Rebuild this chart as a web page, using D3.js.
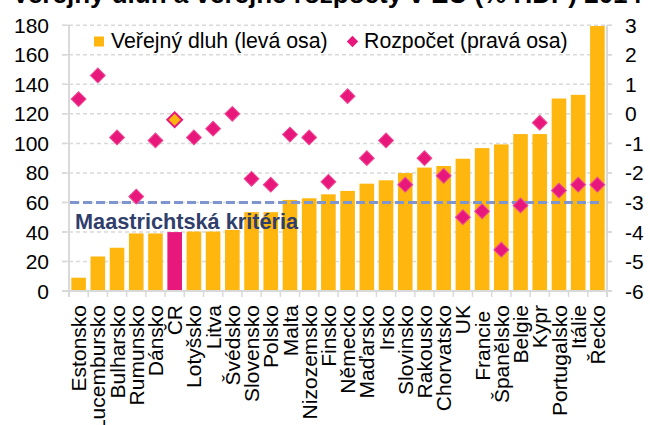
<!DOCTYPE html>
<html><head><meta charset="utf-8">
<script src="https://cdn.jsdelivr.net/npm/d3@7"></script>
<style>
body{margin:0;background:#fff;overflow:hidden}
text{font-family:"Liberation Sans",Arial,sans-serif}
</style>
</head><body><svg id="c" width="650" height="425"></svg>
<script>
const titleText = "Veřejný dluh a veřejné rozpočty v EU (% HDP) 2014";
const categories = ["Estonsko","Lucembursko","Bulharsko","Rumunsko","Dánsko","ČR","Lotyšsko","Litva","Švédsko","Slovensko","Polsko","Malta","Nizozemsko","Finsko","Německo","Maďarsko","Irsko","Slovinsko","Rakousko","Chorvatsko","UK","Francie\u00a0","Španělsko","Belgie","Kypr","Portugalsko","Itálie","Řecko"];
const debt   = [9.0,23.4,29.3,39.0,39.0,39.9,40.3,40.3,41.4,53.4,53.4,61.7,62.8,65.5,67.8,72.7,75.0,79.9,83.6,84.7,89.6,96.8,99.3,106.3,106.3,130.4,132.9,179.5];
const budget = [0.5,1.3,-0.8,-2.8,-0.9,-0.2,-0.8,-0.5,0.0,-2.2,-2.4,-0.7,-0.8,-2.3,0.6,-1.5,-0.9,-2.4,-1.5,-2.1,-3.5,-3.3,-4.6,-3.1,-0.3,-2.6,-2.4,-2.4];
const leftTicks = [0,20,40,60,80,100,120,140,160,180];
const rightTicks = [-6,-5,-4,-3,-2,-1,0,1,2,3];
const maastrichtDebt = 60;
const highlight = "ČR";
const legendLabels = ["Veřejný dluh (levá osa)","Rozpočet (pravá osa)"];
const refLabel = "Maastrichtská kritéria";

const ORANGE = "#FFB70F", MAGENTA = "#E8177B", GRID = "#D9D9D9", BLUE = "#7F95CF", NAVY = "#2F3E6B";
const svg = d3.select("#c");
const x0 = 69, x1 = 607, yTop = 25.3, yBot = 291;

const x = d3.scaleBand().domain(categories).range([x0, x1]).paddingInner(0.24).paddingOuter(0.12);
const yL = d3.scaleLinear().domain([0,180]).range([yBot, yTop]);
const yR = d3.scaleLinear().domain([-6,3]).range([yBot, yTop]);

// title (mostly cut off at top, as in the reference)
svg.append("text").attr("x", 12).attr("y", 2.5).attr("font-size", 26).attr("font-weight", "bold")
  .attr("fill", "#000").text(titleText);

// gridlines
svg.append("g").selectAll("line").data(leftTicks.filter(d => d > 0)).join("line")
  .attr("x1", x0 - 7).attr("x2", x1 + 5)
  .attr("y1", d => yL(d)).attr("y2", d => yL(d))
  .attr("stroke", GRID).attr("stroke-width", 1.5).attr("stroke-dasharray", "4,3");

// bars
svg.append("g").selectAll("rect").data(categories).join("rect")
  .attr("x", d => x(d)).attr("width", x.bandwidth())
  .attr("y", (d, i) => yL(Math.min(debt[i], 180)))
  .attr("height", (d, i) => yL(0) - yL(Math.min(debt[i], 180)))
  .attr("fill", d => d === highlight ? MAGENTA : ORANGE);

// Maastricht line
svg.append("line").attr("x1", x0 + 1).attr("x2", x1 - 4)
  .attr("y1", yL(maastrichtDebt)).attr("y2", yL(maastrichtDebt))
  .attr("stroke", BLUE).attr("stroke-width", 3).attr("stroke-dasharray", "9,4");
svg.append("text").attr("x", x0 + 6).attr("y", yL(maastrichtDebt) + 27)
  .attr("font-size", 21.7).attr("font-weight", "bold").attr("fill", NAVY).text(refLabel);

// axes lines
const ax = svg.append("g").attr("stroke", GRID).attr("stroke-width", 2);
ax.append("line").attr("x1", x0).attr("x2", x0).attr("y1", yTop).attr("y2", yBot + 6);
ax.append("line").attr("x1", x1).attr("x2", x1).attr("y1", yTop).attr("y2", yBot + 6);
ax.append("line").attr("x1", x0 - 7).attr("x2", x1 + 5).attr("y1", yBot).attr("y2", yBot);
ax.selectAll(".lt").data(leftTicks).join("line").attr("class","lt")
  .attr("x1", x0 - 7).attr("x2", x0).attr("y1", d => yL(d)).attr("y2", d => yL(d)).attr("stroke-width", 1.5);
ax.selectAll(".rt").data(rightTicks).join("line").attr("class","rt")
  .attr("x1", x1).attr("x2", x1 + 5).attr("y1", d => yR(d)).attr("y2", d => yR(d)).attr("stroke-width", 1.5);
const step = x.step();
ax.selectAll(".bt").data(d3.range(categories.length + 1)).join("line").attr("class","bt")
  .attr("x1", i => x0 + i * step).attr("x2", i => x0 + i * step)
  .attr("y1", yBot).attr("y2", yBot + 6).attr("stroke-width", 1.5);

// tick labels
svg.append("g").selectAll("text").data(leftTicks).join("text")
  .attr("x", 49).attr("y", d => yL(d)).attr("dy", "0.36em").attr("text-anchor", "end")
  .attr("font-size", 21).attr("fill", "#000").text(d => d);
svg.append("g").selectAll("text").data(rightTicks).join("text")
  .attr("x", 625).attr("y", d => yR(d)).attr("dy", "0.36em").attr("text-anchor", "start")
  .attr("font-size", 21).attr("fill", "#000").text(d => d);

// category labels
svg.append("g").selectAll("text").data(categories).join("text")
  .attr("transform", d => `translate(${x(d) + x.bandwidth() / 2},${yBot + 14}) rotate(-90)`)
  .attr("dy", "0.36em").attr("text-anchor", "end").attr("font-size", 21).attr("fill", "#000")
  .style("white-space", "pre").text(d => d);

// diamonds
const diamond = d3.symbol().type(d3.symbolSquare).size(110);
svg.append("g").selectAll("path").data(categories).join("path")
  .attr("d", diamond)
  .attr("transform", (d, i) => `translate(${x(d) + x.bandwidth() / 2},${yR(budget[i])}) rotate(45)`)
  .attr("fill", d => d === highlight ? ORANGE : MAGENTA)
  .attr("stroke", d => d === highlight ? MAGENTA : "#F04A95")
  .attr("stroke-width", d => d === highlight ? 2 : 1);

// legend
const lg = svg.append("g");
lg.append("rect").attr("x", 94).attr("y", 36.5).attr("width", 10).attr("height", 10).attr("fill", ORANGE);
lg.append("text").attr("x", 111).attr("y", 47.5).attr("font-size", 21.3).attr("fill", "#000").text(legendLabels[0]);
lg.append("path").attr("d", d3.symbol().type(d3.symbolSquare).size(64))
  .attr("transform", "translate(352.5,41.5) rotate(45)").attr("fill", MAGENTA);
lg.append("text").attr("x", 364).attr("y", 47.5).attr("font-size", 21.3).attr("fill", "#000").text(legendLabels[1]);
</script></body></html>
